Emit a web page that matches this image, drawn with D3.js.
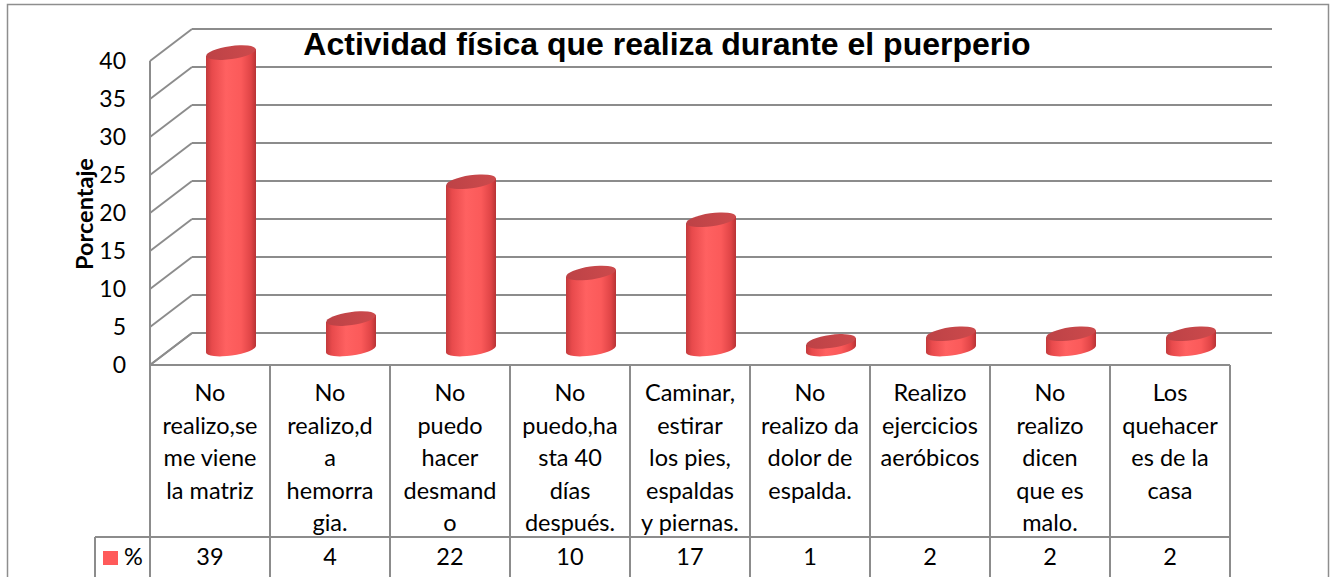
<!DOCTYPE html>
<html>
<head>
<meta charset="utf-8">
<script src="https://cdn.jsdelivr.net/npm/d3@7"></script>
<style>
  body { margin: 0; background: #fff; }
  svg { display: block; }
</style>
</head>
<body>
<svg id="chart"></svg>
<script>
// data
const categories = [
  ["No", "realizo,se", "me viene", "la matriz"],
  ["No", "realizo,d", "a", "hemorra", "gia."],
  ["No", "puedo", "hacer", "desmand", "o"],
  ["No", "puedo,ha", "sta 40", "días", "después."],
  ["Caminar,", "estirar", "los pies,", "espaldas", "y piernas."],
  ["No", "realizo da", "dolor de", "espalda."],
  ["Realizo", "ejercicios", "aeróbicos"],
  ["No", "realizo", "dicen", "que es", "malo."],
  ["Los", "quehacer", "es de la", "casa"]
];
const values = [39, 4, 22, 10, 17, 1, 2, 2, 2];
const yTicks = [0, 5, 10, 15, 20, 25, 30, 35, 40];
const seriesName = "%";

const W = 1334, H = 577;
const svg = d3.select("#chart").attr("width", W).attr("height", H);

// front face of the plot + depth offset for the 3D walls
const left = 150, right = 1230, floorY = 365, topY = 61;
const depth = { x: 42, y: -32 };
const gridColor = "#8c8c8c";
const font = "Lato, 'Open Sans', sans-serif";

const xScale = d3.scaleBand()
  .domain(d3.range(categories.length))
  .range([left, right])
  .padding(0);

const yScale = d3.scaleLinear()
  .domain([0, 40])
  .range([floorY, topY]);

// outer chart border
svg.append("rect")
  .attr("x", 7.5).attr("y", 4.5)
  .attr("width", 1321).attr("height", 590)
  .attr("fill", "none")
  .attr("stroke", "#8e8e8e")
  .attr("stroke-width", 1.5);

const walls = svg.append("g")
  .attr("stroke", gridColor)
  .attr("stroke-width", 2)
  .attr("fill", "none");

// back wall gridlines
walls.selectAll("line.back")
  .data(yTicks)
  .enter()
  .append("line")
  .attr("class", "back")
  .attr("x1", left + depth.x)
  .attr("x2", right + depth.x)
  .attr("y1", d => yScale(d) + depth.y)
  .attr("y2", d => yScale(d) + depth.y);

// side wall gridlines
walls.selectAll("line.side")
  .data(yTicks)
  .enter()
  .append("line")
  .attr("class", "side")
  .attr("x1", left)
  .attr("x2", left + depth.x)
  .attr("y1", d => yScale(d))
  .attr("y2", d => yScale(d) + depth.y);

// front vertical edge of the side wall
walls.append("line")
  .attr("x1", left).attr("x2", left)
  .attr("y1", yScale(40)).attr("y2", floorY);

// y axis tick labels
svg.append("g")
  .selectAll("text")
  .data(yTicks)
  .enter()
  .append("text")
  .attr("x", 126)
  .attr("y", d => yScale(d))
  .attr("dy", "0.36em")
  .attr("text-anchor", "end")
  .attr("font-family", font)
  .attr("font-size", 23)
  .attr("fill", "#000")
  .text(d => d);

svg.append("text")
  .attr("transform", `translate(93,${yScale(20) + 1}) rotate(-90)`)
  .attr("text-anchor", "middle")
  .attr("font-family", font)
  .attr("font-weight", "bold")
  .attr("font-size", 23.5)
  .text("Porcentaje");

// title
svg.append("text")
  .attr("x", 667)
  .attr("y", 55)
  .attr("text-anchor", "middle")
  .attr("font-family", "'Liberation Sans', Arial, sans-serif")
  .attr("font-weight", "bold")
  .attr("font-size", 32)
  .text("Actividad física que realiza durante el puerperio");

// cylinder gradients
const defs = svg.append("defs");
const bodyGrad = defs.append("linearGradient")
  .attr("id", "body").attr("x1", 0).attr("x2", 1).attr("y1", 0).attr("y2", 0);
[["0%", "#c23a3c"], ["12%", "#e84a4c"], ["40%", "#ff6161"], ["70%", "#fb5a5a"], ["90%", "#e04446"], ["100%", "#b73335"]]
  .forEach(([o, c]) => bodyGrad.append("stop").attr("offset", o).attr("stop-color", c));
const topGrad = defs.append("linearGradient")
  .attr("id", "top").attr("x1", 0).attr("x2", 1).attr("y1", 0).attr("y2", 0);
[["0%", "#bd4246"], ["100%", "#cc4a4c"]]
  .forEach(([o, c]) => topGrad.append("stop").attr("offset", o).attr("stop-color", c));

const rx = 25, ry = 6.5, tilt = -8;

const bars = svg.append("g")
  .selectAll("g")
  .data(values)
  .enter()
  .append("g")
  .attr("transform", (d, i) =>
    `translate(${xScale(i) + xScale.bandwidth() / 2 + depth.x / 2},${depth.y / 2})`);

// body: side rect + rounded bottom
bars.append("path")
  .attr("fill", "url(#body)")
  .attr("d", d => {
    const yt = yScale(d), yb = yScale(0);
    const a = tilt * Math.PI / 180;
    // ends of the tilted ellipses
    const dy = rx * Math.sin(a);
    return `M${-rx},${yt - dy} L${-rx},${yb - dy}` +
      ` A${rx},${ry} ${tilt} 0 0 ${rx},${yb + dy}` +
      ` L${rx},${yt + dy} Z`;
  });

// top ellipse
bars.append("ellipse")
  .attr("cx", 0)
  .attr("cy", d => yScale(d))
  .attr("rx", rx)
  .attr("ry", ry)
  .attr("transform", d => `rotate(${tilt},0,${yScale(d)})`)
  .attr("fill", "url(#top)");

// data table
const table = svg.append("g")
  .attr("stroke", gridColor)
  .attr("stroke-width", 2);

table.append("line")
  .attr("x1", left).attr("x2", right)
  .attr("y1", floorY).attr("y2", floorY);
table.append("line")
  .attr("x1", left).attr("x2", left + depth.x)
  .attr("y1", floorY).attr("y2", floorY + depth.y);
table.append("line")
  .attr("x1", 95).attr("x2", right)
  .attr("y1", 537).attr("y2", 537);
table.append("line")
  .attr("x1", 95).attr("x2", 95)
  .attr("y1", 537).attr("y2", H);
table.selectAll("line.col")
  .data(d3.range(categories.length + 1))
  .enter()
  .append("line")
  .attr("class", "col")
  .attr("x1", i => left + i * xScale.bandwidth())
  .attr("x2", i => left + i * xScale.bandwidth())
  .attr("y1", floorY).attr("y2", H);

const cats = svg.append("g")
  .selectAll("text")
  .data(categories)
  .enter()
  .append("text")
  .attr("text-anchor", "middle")
  .attr("font-family", font)
  .attr("font-size", 23.5)
  .attr("fill", "#000");

cats.selectAll("tspan")
  .data((d, i) => d.map(line => ({ line, i })))
  .enter()
  .append("tspan")
  .attr("x", d => xScale(d.i) + xScale.bandwidth() / 2)
  .attr("y", (d, j) => 401 + j * 32.5)
  .text(d => d.line);

svg.append("g")
  .selectAll("text")
  .data(values)
  .enter()
  .append("text")
  .attr("x", (d, i) => xScale(i) + xScale.bandwidth() / 2)
  .attr("y", 565)
  .attr("text-anchor", "middle")
  .attr("font-family", font)
  .attr("font-size", 23.5)
  .text(d => d);

// legend key in the table
svg.append("rect")
  .attr("x", 103).attr("y", 551)
  .attr("width", 15).attr("height", 14)
  .attr("fill", "#ff5a5a");
svg.append("text")
  .attr("x", 124).attr("y", 565)
  .attr("font-family", font)
  .attr("font-size", 23.5)
  .text(seriesName);
</script>
</body>
</html>
